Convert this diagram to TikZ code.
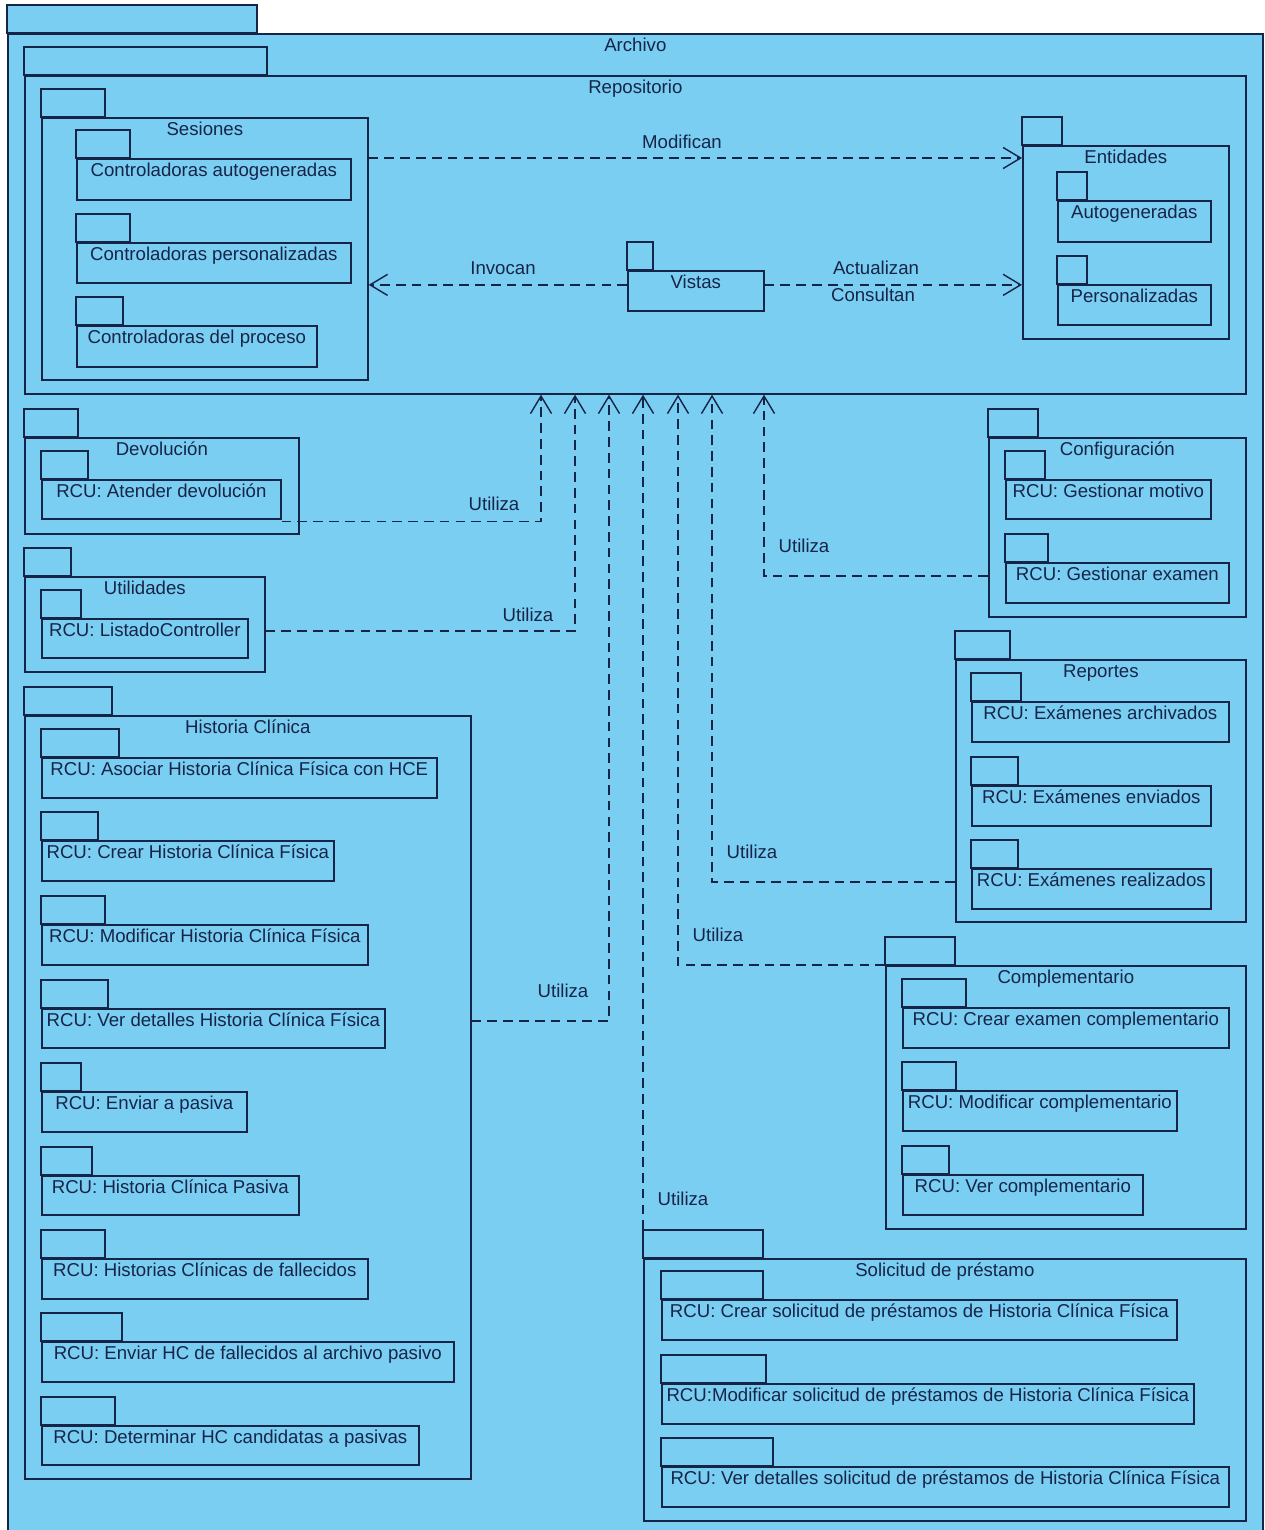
\documentclass[tikz,border=0pt]{standalone}
\usepackage{fontspec}
\setmainfont{Liberation Sans}
\usetikzlibrary{arrows.meta,calc}

\definecolor{azul}{RGB}{122,206,242}
\definecolor{linea}{RGB}{22,36,72}

% paquete UML: nombre, x1, arriba del cuerpo, x2, abajo, borde derecho de la pestana, texto
\newcommand{\paquete}[7]{%
  \draw[pkg] (#2,#3) rectangle (#6,#3-28);
  \coordinate (#1-tab) at (#2,#3-28);
  \pgfmathsetmacro\pkgw{(#4-#2)*0.02}%
  \pgfmathsetmacro\pkgh{(#5-#3)*0.02}%
  \node[pkg, minimum width=\pkgw cm, minimum height=\pkgh cm, anchor=north west] (#1) at (#2,#3) {};
  \node[pkgtext, anchor=base] (#1-t) at ([yshift=-10.8pt]#1.north) {#7};
}

\begin{document}
\begin{tikzpicture}[
    x=0.02cm, y=-0.02cm,
    pkg/.style = {draw=linea, fill=azul, line width=0.95pt, inner sep=0pt},
    pkgtext/.style = {font=\fontsize{10.6}{12}\selectfont, text=linea, inner sep=0pt},
    lbl/.style = {pkgtext},
    dep/.style = {draw=linea, line width=0.8pt, dash pattern=on 5.5pt off 3.5pt, -{Straight Barb[length=10pt,width=12pt]}}
]
    \useasboundingbox (0,0) rectangle (1264,1530);

    % Paquetes
    \paquete{arc}{7}{33}{1262}{1533}{257}{Archivo}
    \paquete{rep}{24}{75}{1245}{393}{267}{Repositorio}

    \paquete{ses}{41}{117}{367}{379}{105}{Sesiones}
    \paquete{cag}{76}{158}{350}{199}{130}{Controladoras autogeneradas}
    \paquete{cpe}{76}{242}{350}{282}{130}{Controladoras personalizadas}
    \paquete{cpr}{76}{325}{316}{366}{123}{Controladoras del proceso}

    \paquete{ent}{1022}{145}{1228}{338}{1062}{Entidades}
    \paquete{eag}{1057}{200}{1210}{241}{1087}{Autogeneradas}
    \paquete{epe}{1057}{284}{1210}{324}{1087}{Personalizadas}

    \paquete{vis}{627}{270}{763}{310}{653}{Vistas}

    \paquete{dev}{24}{437}{298}{533}{78}{Devolución}
    \paquete{atd}{41}{479}{280}{518}{88}{RCU: Atender devolución}

    \paquete{uti}{24}{576}{264}{671}{71}{Utilidades}
    \paquete{lst}{41}{618}{247}{657}{81}{RCU: ListadoController}

    \paquete{hc}{24}{715}{470}{1478}{112}{Historia Clínica}
    \paquete{ahc}{41}{757}{436}{797}{119}{RCU: Asociar Historia Clínica Física con HCE}
    \paquete{chf}{41}{840}{333}{880}{98}{RCU: Crear Historia Clínica Física}
    \paquete{mhf}{41}{924}{367}{964}{105}{RCU: Modificar Historia Clínica Física}
    \paquete{vdh}{41}{1008}{384}{1047}{108}{RCU: Ver detalles Historia Clínica Física}
    \paquete{epa}{41}{1091}{246}{1131}{81}{RCU: Enviar a pasiva}
    \paquete{hcp}{41}{1175}{298}{1214}{92}{RCU: Historia Clínica Pasiva}
    \paquete{hcf}{41}{1258}{367}{1298}{105}{RCU: Historias Clínicas de fallecidos}
    \paquete{ehf}{41}{1341}{453}{1381}{122}{RCU: Enviar HC de fallecidos al archivo pasivo}
    \paquete{dhc}{41}{1425}{418}{1464}{115}{RCU: Determinar HC candidatas a pasivas}

    \paquete{cfg}{988}{437}{1245}{616}{1038}{Configuración}
    \paquete{gmo}{1005}{479}{1210}{518}{1045}{RCU: Gestionar motivo}
    \paquete{gex}{1005}{562}{1228}{602}{1048}{RCU: Gestionar examen}

    \paquete{rpt}{955}{659}{1245}{921}{1010}{Reportes}
    \paquete{ear}{971}{701}{1228}{741}{1021}{RCU: Exámenes archivados}
    \paquete{een}{971}{785}{1210}{825}{1018}{RCU: Exámenes enviados}
    \paquete{ere}{971}{868}{1210}{908}{1018}{RCU: Exámenes realizados}

    \paquete{com}{885}{965}{1245}{1228}{955}{Complementario}
    \paquete{cex}{902}{1007}{1228}{1047}{966}{RCU: Crear examen complementario}
    \paquete{mco}{902}{1090}{1176}{1130}{956}{RCU: Modificar complementario}
    \paquete{vco}{902}{1174}{1142}{1214}{949}{RCU: Ver complementario}

    \paquete{sol}{643}{1258}{1245}{1520}{763}{Solicitud de préstamo}
    \paquete{csp}{661}{1299}{1176}{1339}{763}{RCU: Crear solicitud de préstamos de Historia Clínica Física}
    \paquete{msp}{661}{1383}{1193}{1423}{766}{RCU:Modificar solicitud de préstamos de Historia Clínica Física}
    \paquete{vsp}{661}{1466}{1228}{1506}{773}{RCU: Ver detalles solicitud de préstamos de Historia Clínica Física}

    % Dependencias dentro del repositorio
    \coordinate (vl) at ([yshift=3.4pt]vis.west);
    \coordinate (vr) at ([yshift=3.4pt]vis.east);
    \path [dep] (ses.east |- cag.north) -- (ent.west |- cag.north);
    \path [dep] (vl) -- (ses.east |- vl);
    \path [dep] (vr) -- (ent.west |- vr);
    \node [lbl] (l-mod) at (682,142) {Modifican};
    \node [lbl] (l-inv) at (503,268) {Invocan};
    \node [lbl] (l-act) at (876,268) {Actualizan};
    \node [lbl] (l-con) at (873,295) {Consultan};

    % Utiliza
    \coordinate (u-dev) at (541,0);
    \coordinate (u-uti) at (575,0);
    \coordinate (u-hc) at (609,0);
    \coordinate (u-com) at (678,0);
    \coordinate (u-rpt) at (712,0);
    \coordinate (u-cfg) at (764,0);
    \path [dep] ([yshift=-1pt]atd.south east) -| (u-dev |- rep.south);
    \path [dep] (uti.east |- 0,631) -| (u-uti |- rep.south);
    \path [dep] (hc.east |- 0,1021) -| (u-hc |- rep.south);
    \path [dep] (sol-tab) -- (sol-tab |- rep.south);
    \path [dep] (com.north west) -| (u-com |- rep.south);
    \path [dep] (rpt.west |- 0,882) -| (u-rpt |- rep.south);
    \path [dep] (cfg.west |- 0,576) -| (u-cfg |- rep.south);
    \node [lbl] (l-u1) at (494,504) {Utiliza};
    \node [lbl] (l-u2) at (528,615) {Utiliza};
    \node [lbl] (l-u3) at (563,991) {Utiliza};
    \node [lbl] (l-u4) at (683,1199) {Utiliza};
    \node [lbl] (l-u5) at (718,935) {Utiliza};
    \node [lbl] (l-u6) at (752,852) {Utiliza};
    \node [lbl] (l-u7) at (804,546) {Utiliza};

\end{tikzpicture}
\end{document}
